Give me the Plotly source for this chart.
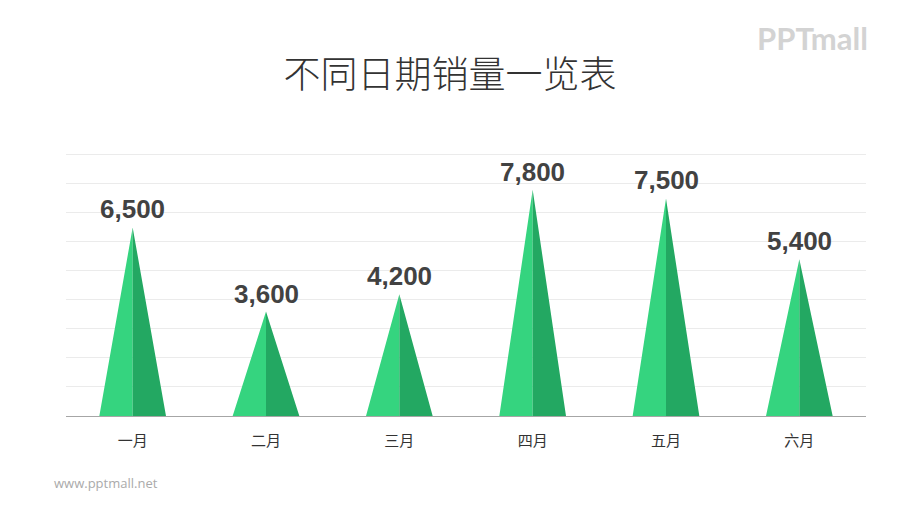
import plotly.graph_objects as go

categories = ["一月", "二月", "三月", "四月", "五月", "六月"]
sales = [6500, 3600, 4200, 7800, 7500, 5400]
title_text = "不同日期销量一览表"

left_color = "#35D47F"
right_color = "#23A862"
half_w = 0.25

xl, yl, xr, yr = [], [], [], []
for i, v in enumerate(sales):
    xl += [i - half_w, i, i, i - half_w, None]
    yl += [0, v, 0, 0, None]
    xr += [i, i + half_w, i, i, None]
    yr += [0, 0, v, 0, None]

fig = go.Figure()
fig.add_trace(go.Scatter(x=xl, y=yl, fill="toself", fillcolor=left_color,
                         mode="lines", line=dict(width=0, color=left_color),
                         hoverinfo="skip", showlegend=False))
fig.add_trace(go.Scatter(x=xr, y=yr, fill="toself", fillcolor=right_color,
                         mode="lines", line=dict(width=0, color=right_color),
                         hoverinfo="skip", showlegend=False))

value_annotations = [
    dict(x=i, y=v, xref="x", yref="y", text=f"<b>{v:,}</b>", showarrow=False,
         xanchor="center", yanchor="bottom", yshift=1,
         font=dict(family="Liberation Sans, Arial", size=26, color="#424242"))
    for i, v in enumerate(sales)
]

t_m, b_m = 152, 90
plot_h = 506 - t_m - b_m
fig.update_layout(
    width=900, height=506,
    margin=dict(l=66, r=34, t=t_m, b=b_m),
    paper_bgcolor="white", plot_bgcolor="white",
    title=dict(text=title_text, x=0.5, xanchor="center", y=1 - 75 / 506, yanchor="middle",
               font=dict(family="Noto Sans CJK SC", size=37, color="#333333", weight=300)),
    xaxis=dict(range=[-0.5, 5.5], tickvals=list(range(len(categories))), ticktext=categories,
               showgrid=False, zeroline=False, showline=False, ticks="", automargin=False,
               tickfont=dict(family="Noto Sans CJK SC", size=15, color="#333333")),
    yaxis=dict(range=[0, 9100], dtick=1000, showticklabels=False, showgrid=True,
               gridcolor="#EBEBEB", gridwidth=1, zeroline=True, zerolinecolor="#A6A6A6",
               zerolinewidth=1.2, ticks="", automargin=False),
    annotations=value_annotations + [
        dict(text="www.pptmall.net", xref="paper", yref="paper", x=-14 / 800, y=-(483 - 416) / plot_h,
             xanchor="left", yanchor="middle", showarrow=False,
             font=dict(family="Open Sans", size=13, color="#AAAAAA")),
        dict(text="<b>PPTmall</b>", xref="paper", yref="paper", x=(870 - 66) / 800,
             y=1 + (t_m - 38) / plot_h, xanchor="right", yanchor="middle", showarrow=False,
             font=dict(family="Lato", size=31, color="#D3D3D3")),
    ],
)
fig.update_xaxes(ticklabelstandoff=14)

fig.write_html("out.html", config={"displayModeBar": False},
               post_script="document.body.style.margin='0';")
